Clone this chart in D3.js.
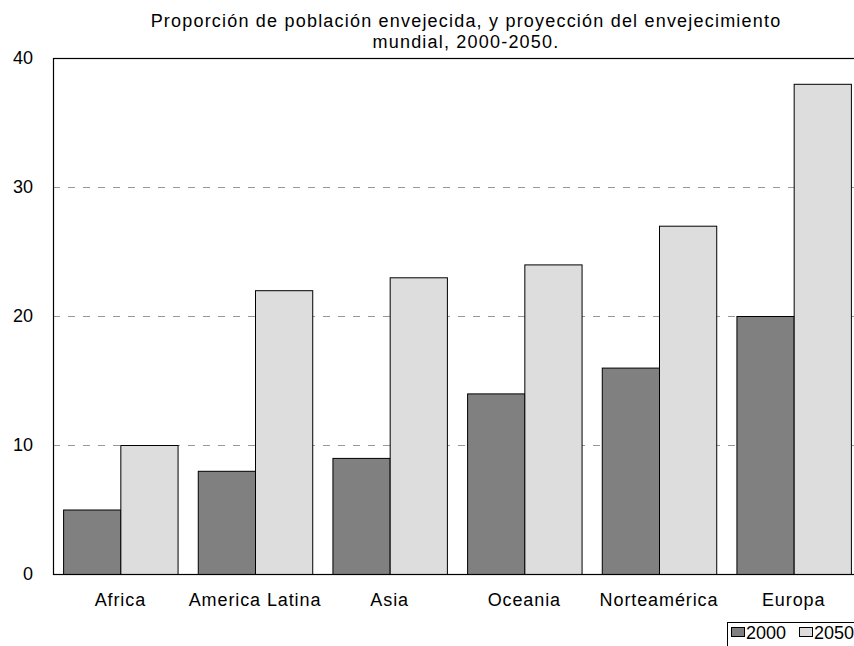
<!DOCTYPE html>
<html>
<head>
<meta charset="utf-8">
<script src="https://cdn.jsdelivr.net/npm/d3@7"></script>
<style>
  html, body { margin: 0; padding: 0; background: #fff; }
  svg { display: block; font-family: "Liberation Sans", Arial, sans-serif; }
</style>
</head>
<body>
<svg id="chart" width="854" height="646"></svg>
<script>
// Regions and the share of elderly population (%) in 2000 and projected for 2050
const categories = ["Africa", "America Latina", "Asia", "Oceania", "Norteamérica", "Europa"];
const seriesNames = ["2000", "2050"];
const values2000 = [5, 8, 9, 14, 16, 20];
const values2050 = [10, 22, 23, 24, 27, 38];
const yTicks = [0, 10, 20, 30, 40];
const titleLines = ["Proporción de población envejecida, y proyección del envejecimiento", "mundial, 2000-2050."];

const colors = { "2000": "#808080", "2050": "#dddddd" };

const svg = d3.select("#chart");
const plot = { left: 53, right: 861, top: 58, bottom: 574 };

const x0 = d3.scaleBand()
  .domain(categories)
  .range([plot.left, plot.right])
  .paddingInner(0.15)
  .paddingOuter(0.075);

const x1 = d3.scaleBand()
  .domain(seriesNames)
  .range([0, x0.bandwidth()]);

const y = d3.scaleLinear()
  .domain([0, 40])
  .range([plot.bottom, plot.top]);

// Dashed gridlines
svg.append("g")
  .selectAll("line")
  .data(yTicks.filter(t => t > 0 && t < 40))
  .join("line")
  .attr("x1", plot.left).attr("x2", plot.right)
  .attr("y1", d => y(d) + 0.5).attr("y2", d => y(d) + 0.5)
  .attr("stroke", "#999999")
  .attr("stroke-width", 1)
  .attr("stroke-dasharray", "7,8");

// Bars
const rows = categories.map((c, i) => ({ cat: c, vals: [values2000[i], values2050[i]] }));
const groups = svg.append("g")
  .selectAll("g")
  .data(rows)
  .join("g")
  .attr("transform", d => `translate(${x0(d.cat)},0)`);

groups.selectAll("rect")
  .data(d => d.vals.map((v, j) => ({ key: seriesNames[j], v })))
  .join("rect")
  .attr("x", d => x1(d.key) + 0.5)
  .attr("y", d => y(d.v) + 0.5)
  .attr("width", x1.bandwidth())
  .attr("height", d => y(0) - y(d.v))
  .attr("fill", d => colors[d.key])
  .attr("stroke", "#000")
  .attr("stroke-width", 1);

// Plot frame
svg.append("rect")
  .attr("x", plot.left + 0.5).attr("y", plot.top + 0.5)
  .attr("width", plot.right - plot.left).attr("height", plot.bottom - plot.top)
  .attr("fill", "none").attr("stroke", "#000").attr("stroke-width", 1.2);

// Y axis
const yAxis = d3.axisLeft(y).tickValues(yTicks).tickSize(0).tickPadding(20);
svg.append("g")
  .attr("transform", `translate(${plot.left},0)`)
  .call(yAxis)
  .call(g => g.select(".domain").remove())
  .selectAll("text")
  .attr("font-size", 18)
  .attr("fill", "#000")
  .attr("font-family", "Liberation Sans, Arial, sans-serif");

// X axis labels
const xAxis = d3.axisBottom(x0).tickSize(0).tickPadding(19);
svg.append("g")
  .attr("transform", `translate(0,${plot.bottom})`)
  .call(xAxis)
  .call(g => g.select(".domain").remove())
  .selectAll("text")
  .attr("font-size", 18)
  .attr("letter-spacing", 0.9)
  .attr("fill", "#000")
  .attr("font-family", "Liberation Sans, Arial, sans-serif");

// Title
svg.append("g")
  .selectAll("text")
  .data(titleLines)
  .join("text")
  .attr("x", 466)
  .attr("y", (d, i) => 27 + i * 21)
  .attr("text-anchor", "middle")
  .attr("font-size", 18)
  .attr("letter-spacing", 1.2)
  .attr("fill", "#000")
  .text(d => d);

// Legend
const legend = svg.append("g");
legend.append("rect")
  .attr("x", 727.5).attr("y", 622.5)
  .attr("width", 140).attr("height", 40)
  .attr("fill", "#fff").attr("stroke", "#000").attr("stroke-width", 1);
const items = legend.selectAll("g.item")
  .data(seriesNames)
  .join("g")
  .attr("class", "item")
  .attr("transform", (d, i) => `translate(${731 + i * 68},0)`);
items.append("rect")
  .attr("x", 0.5).attr("y", 627.5)
  .attr("width", 13).attr("height", 9)
  .attr("fill", d => colors[d])
  .attr("stroke", "#000").attr("stroke-width", 1);
items.append("text")
  .attr("x", 15).attr("y", 639)
  .attr("font-size", 18)
  .attr("fill", "#000")
  .text(d => d);
</script>
</body>
</html>
